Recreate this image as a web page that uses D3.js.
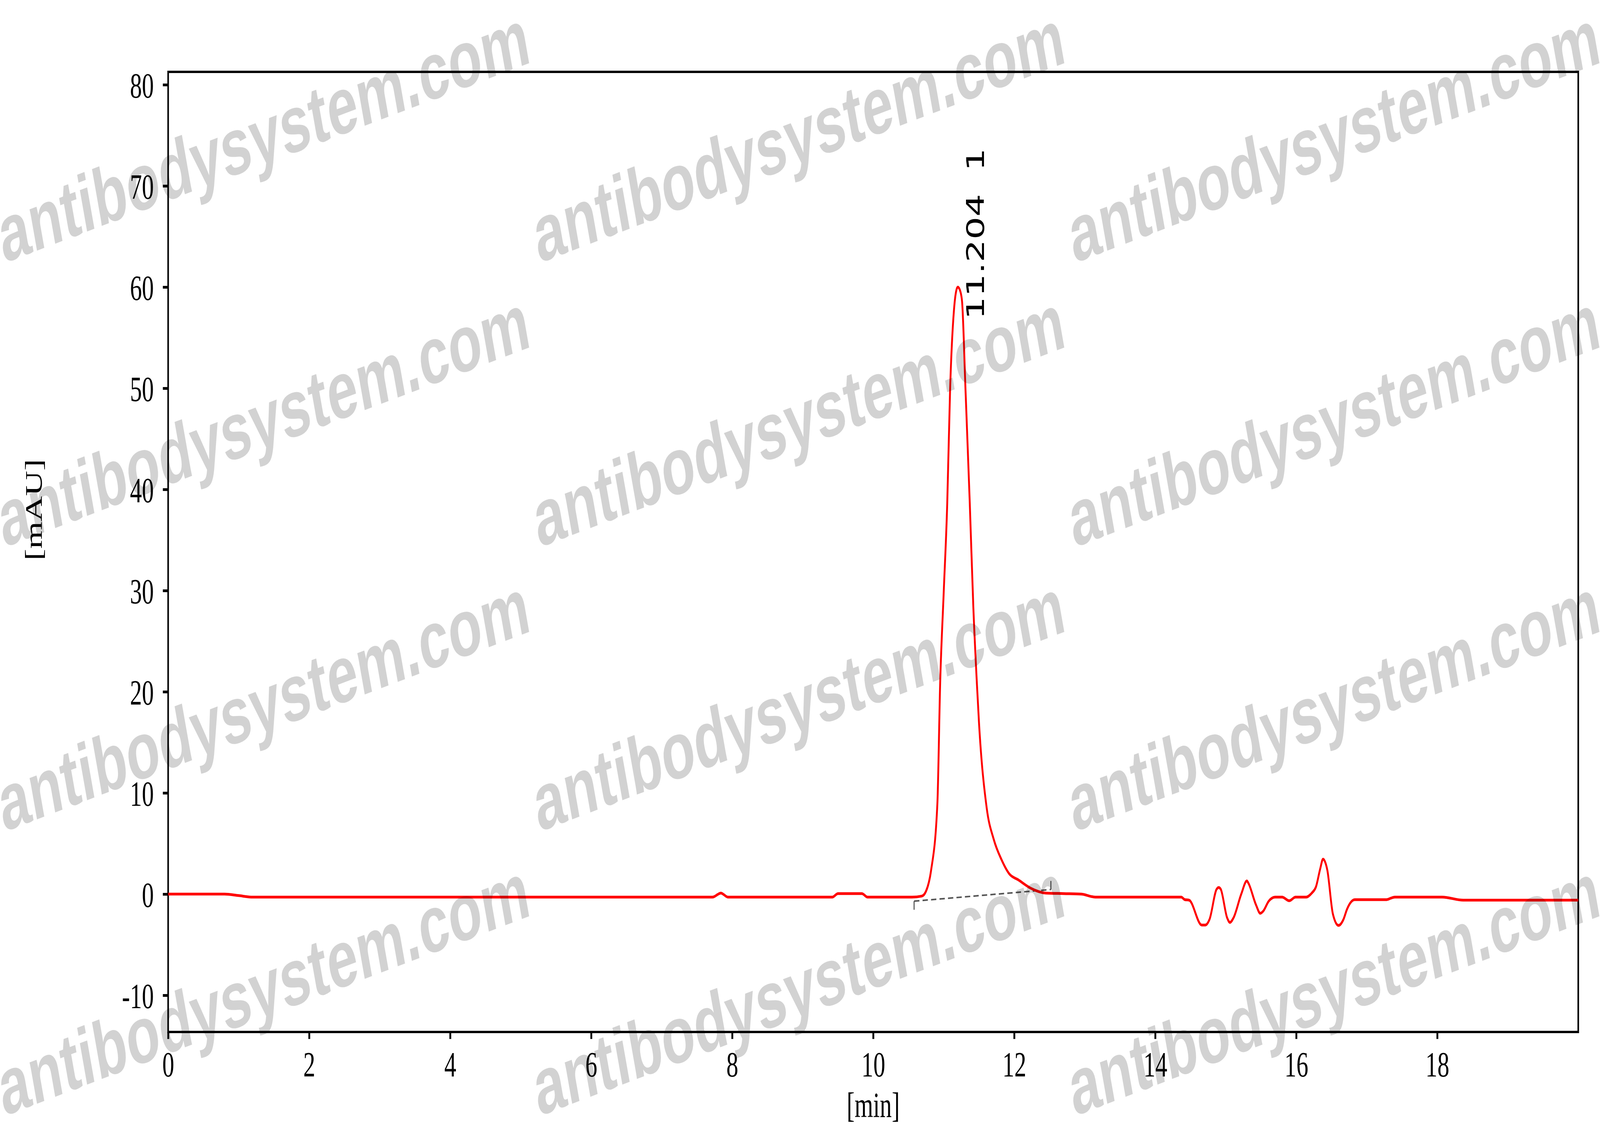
<!DOCTYPE html>
<html>
<head>
<meta charset="utf-8">
<script src="https://cdn.jsdelivr.net/npm/d3@7"></script>
<style>
  html, body { margin: 0; padding: 0; background: #fff; overflow: hidden; width: 100%; height: 100%; }
  svg { display: block; width: 100vw; height: 100vh; }
</style>
</head>
<body>
<svg id="chart" viewBox="0 0 6033 2916" preserveAspectRatio="none"></svg>
<script>
// ---- data ----
const time = [0, 0.5, 0.8, 1.0, 1.2, 3.0, 5.0, 7.72, 7.84, 7.94, 9.0, 9.42, 9.5, 9.84, 9.92, 10.3, 10.55,
  10.69, 10.75, 10.82, 10.91, 10.95, 11.00, 11.05, 11.09, 11.15, 11.18, 11.20, 11.23, 11.26, 11.31, 11.37,
  11.42, 11.47, 11.50, 11.61, 11.71, 11.82, 11.93, 12.06, 12.23, 12.45, 12.70, 12.95, 13.15, 13.6, 14.0, 14.37,
  14.42, 14.48, 14.66, 14.71, 14.77, 14.87, 14.90, 14.93, 15.02, 15.06, 15.11, 15.22, 15.30, 15.32, 15.43,
  15.49, 15.53, 15.61, 15.70, 15.80, 15.90, 15.99, 16.14, 16.22, 16.28, 16.34, 16.38, 16.44, 16.52, 16.60,
  16.67, 16.72, 16.83, 17.27, 17.40, 18.07, 18.37, 19.0, 20.0];
const signal = [0, 0, 0, -0.15, -0.3, -0.3, -0.3, -0.3, 0.1, -0.3, -0.3, -0.3, 0.05, 0.05, -0.3, -0.3, -0.3,
  -0.2, 0.3, 2.3, 8.9, 20.9, 29.8, 38.6, 49.7, 58.1, 59.7, 60.0, 59.7, 58.6, 49.7, 38.6,
  28.4, 20.9, 17.0, 8.5, 5.4, 3.4, 2.0, 1.4, 0.6, 0.1, 0.05, 0.0, -0.3, -0.3, -0.3, -0.3,
  -0.55, -0.6, -3.06, -3.06, -2.5, 0.47, 0.66, 0.47, -2.35, -2.8, -2.35, 0.0, 1.3, 1.1, -1.08,
  -1.9, -1.7, -0.7, -0.3, -0.3, -0.66, -0.3, -0.3, 0.1, 0.72, 2.5, 3.45, 2.4, -1.97, -3.1,
  -2.5, -1.5, -0.55, -0.55, -0.3, -0.3, -0.6, -0.6, -0.6];

const xTicks = [0, 2, 4, 6, 8, 10, 12, 14, 16, 18];
const yTicks = [-10, 0, 10, 20, 30, 40, 50, 60, 70, 80];
const xDomain = [0, 20];
const yDomain = [-13.63, 81.27];

const peakTime = 11.204;
const peakLabel = "11.204  1";
const baselineTimes = [10.58, 12.52];
const baselineValues = [-0.7, 0.45];

const xTitle = "[min]";
const yTitle = "[mAU]";
const watermarkText = "antibodysystem.com";

// ---- layout ----
const W = 6033, H = 2916;
const L = 634, R = 5951, T = 184, B = 2642;

const svg = d3.select("#chart");
svg.append("rect").attr("width", W).attr("height", H).attr("fill", "#fff");

const x = d3.scaleLinear().domain(xDomain).range([L, R]);
const y = d3.scaleLinear().domain(yDomain).range([B, T]);

const serif = "'Liberation Serif', 'Times New Roman', serif";

// axes
const xAxis = d3.axisBottom(x).tickValues(xTicks).tickFormat(d3.format("d")).tickSize(18).tickPadding(32);
const yAxis = d3.axisLeft(y).tickValues(yTicks).tickFormat(d => String(d)).tickSize(20).tickPadding(34);

const gx = svg.append("g").attr("transform", `translate(0,${B})`).call(xAxis);
const gy = svg.append("g").attr("transform", `translate(${L},0)`).call(yAxis);
[gx, gy].forEach(g => {
  g.select(".domain").remove();
  g.selectAll(".tick line").attr("stroke", "#000").attr("stroke-width", 7);
  g.selectAll(".tick text").attr("fill", "#000").style("font-family", serif).style("font-size", "90px");
});
gy.selectAll(".tick text").attr("dy", "0.36em");

// frame
svg.append("rect").attr("x", L).attr("y", T).attr("width", R - L).attr("height", B - T)
  .attr("fill", "none").attr("stroke", "#000").attr("stroke-width", 6);

// axis titles
svg.append("text").attr("x", (L + R) / 2).attr("y", 2860).attr("text-anchor", "middle")
  .style("font-family", serif).style("font-size", "90px").text(xTitle);
svg.append("text").attr("transform", `translate(158,1305) rotate(-90)`).attr("text-anchor", "middle")
  .style("font-family", serif).style("font-size", "90px").text(yTitle);

// integration baseline
const bx0 = x(baselineTimes[0]), by0 = y(baselineValues[0]);
const bx1 = x(baselineTimes[1]), by1 = y(baselineValues[1]);
svg.append("line").attr("x1", bx0).attr("y1", by0).attr("x2", bx1).attr("y2", by1)
  .attr("stroke", "#555").attr("stroke-width", 4).attr("stroke-dasharray", "20,12");
svg.append("line").attr("x1", bx0).attr("y1", by0).attr("x2", bx0).attr("y2", by0 + 22)
  .attr("stroke", "#555").attr("stroke-width", 4);
svg.append("line").attr("x1", bx1).attr("y1", by1).attr("x2", bx1).attr("y2", by1 - 22)
  .attr("stroke", "#555").attr("stroke-width", 4);

// trace
const pts = time.map((t, i) => [t, signal[i]]);
const line = d3.line().x(d => x(d[0])).y(d => y(d[1])).curve(d3.curveMonotoneX);
svg.append("path").datum(pts).attr("d", line).attr("fill", "none")
  .attr("stroke", "#ff0000").attr("stroke-width", 7).attr("stroke-linejoin", "round");

// peak label
svg.append("text")
  .attr("transform", `translate(${x(peakTime) + 98},818) rotate(-90)`)
  .attr("xml:space", "preserve").style("white-space", "pre")
  .style("font-family", "'DejaVu Sans', sans-serif").style("font-size", "92px")
  .attr("fill", "#000").text(peakLabel);

// watermark
const wmCols = [14, 2032, 4050];
const wmRows = [674, 1402, 2130, 2858];
const wm = svg.append("g").attr("opacity", 0.18);
wmRows.forEach(ry => wmCols.forEach(cx => {
  wm.append("text").attr("transform", `translate(${cx},${ry}) rotate(-14.5)`)
    .style("font-family", "'Liberation Sans', Arial, sans-serif").style("font-size", "207px")
    .style("font-weight", "bold")
    .attr("fill", "#000")
    .text(watermarkText);
}));
</script>
</body>
</html>
